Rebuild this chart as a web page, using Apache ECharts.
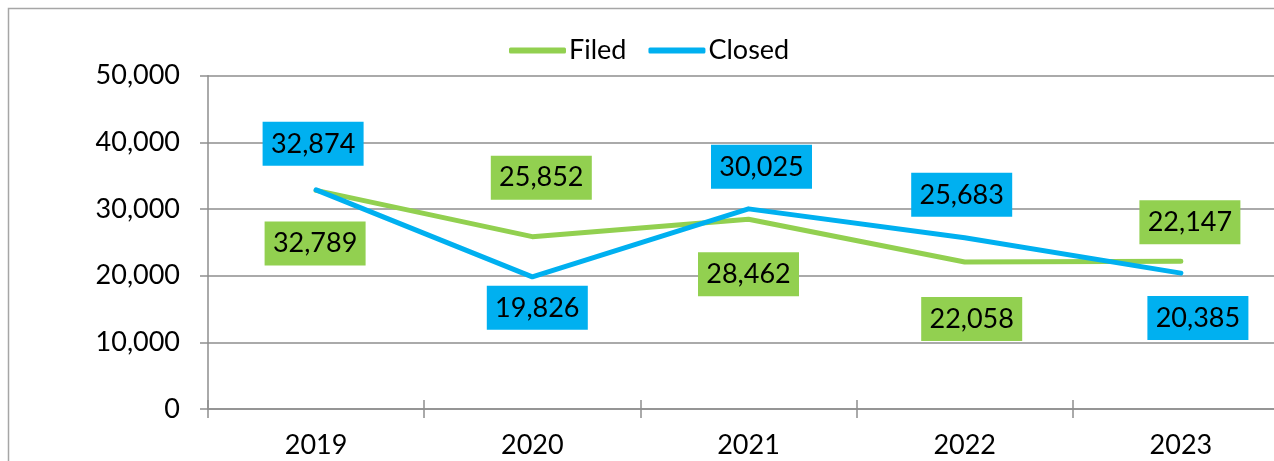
<!DOCTYPE html>
<html>
<head>
<meta charset="utf-8">
<script src="https://cdn.jsdelivr.net/npm/echarts@6/dist/echarts.min.js"></script>
<style>
  html, body { margin: 0; padding: 0; background: #fff; overflow: hidden; }
  #chart { width: 1290px; height: 461px; }
</style>
</head>
<body>
<div id="chart"></div>
<script>
const years = ['2019', '2020', '2021', '2022', '2023'];
const filed = [32789, 25852, 28462, 22058, 22147];
const closed = [32874, 19826, 30025, 25683, 20385];

// label nudges, Excel-style manual placement
const filedOffsets = [[-1, 53], [9, -59], [0, 55], [7, 57], [9, -39]];
const closedOffsets = [[-3, -46], [5, 31], [13, -42], [-3, -43], [17, 45]];

const GREEN = '#92d050';
const BLUE = '#00b0f0';
const GRAY = '#8e8e8e';
const FONT = 'Lato';

const fmt = v => v.toLocaleString('en-US');

const withLabels = (vals, offsets, color) => vals.map((v, i) => ({
  value: v,
  label: { offset: offsets[i], backgroundColor: color }
}));

const chart = echarts.init(document.getElementById('chart'));

const labelBase = {
  show: true,
  position: 'inside',
  color: '#000',
  fontFamily: FONT,
  fontSize: 27,
  lineHeight: 30,
  width: 85,
  align: 'center',
  padding: [7, 8],
  formatter: p => fmt(p.value)
};

chart.setOption({
  animation: false,
  graphic: [{
    type: 'rect',
    shape: { x: 8.5, y: 8.5, width: 1400, height: 600 },
    style: { fill: 'none', stroke: '#a6a6a6', lineWidth: 1.5 },
    silent: true
  }],
  legend: {
    left: 504,
    top: 32,
    icon: 'roundRect',
    itemWidth: 57,
    itemHeight: 6,
    itemGap: 22,
    textStyle: { fontFamily: FONT, fontSize: 27, color: '#000', padding: [0, 0, 0, -2] },
    data: ['Filed', 'Closed']
  },
  grid: { left: 208, right: 1, top: 75.7, bottom: 52, containLabel: false },
  xAxis: [{
    type: 'category',
    data: years,
    boundaryGap: true,
    axisLine: { lineStyle: { color: GRAY, width: 1.5 } },
    axisTick: { show: true, length: 9, lineStyle: { color: GRAY, width: 1.5 } },
    axisLabel: { color: '#000', fontFamily: FONT, fontSize: 27, margin: 23 }
  }, {
    type: 'category',
    data: years,
    position: 'bottom',
    boundaryGap: true,
    axisLine: { show: false },
    axisTick: { show: true, inside: true, length: 9, lineStyle: { color: GRAY, width: 1.5 } },
    axisLabel: { show: false }
  }],
  yAxis: {
    type: 'value',
    min: 0,
    max: 50000,
    interval: 10000,
    axisLine: { show: true, lineStyle: { color: GRAY, width: 1.5 } },
    axisTick: { show: true, length: 8, lineStyle: { color: GRAY, width: 1.5 } },
    splitLine: { lineStyle: { color: GRAY, width: 1.5 } },
    axisLabel: {
      color: '#000', fontFamily: FONT, fontSize: 27, margin: 28,
      formatter: v => fmt(v)
    }
  },
  series: [{
    name: 'Filed',
    type: 'line',
    data: withLabels(filed, filedOffsets, GREEN),
    symbol: 'circle',
    symbolSize: 0.1,
    color: GREEN,
    lineStyle: { width: 5, cap: 'round', join: 'round' },
    label: labelBase,
    z: 2
  }, {
    name: 'Closed',
    type: 'line',
    data: withLabels(closed, closedOffsets, BLUE),
    symbol: 'circle',
    symbolSize: 0.1,
    color: BLUE,
    lineStyle: { width: 5, cap: 'round', join: 'round' },
    label: labelBase,
    z: 3
  }]
});
</script>
</body>
</html>
